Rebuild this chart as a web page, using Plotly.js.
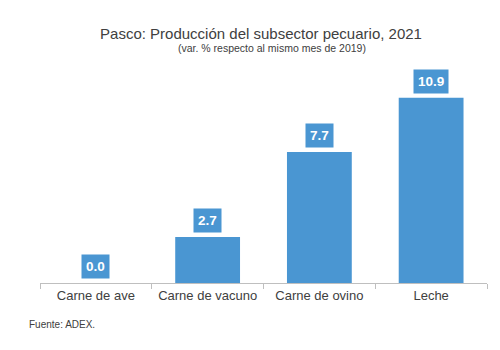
<!DOCTYPE html>
<html>
<head>
<meta charset="utf-8">
<script src="https://cdn.plot.ly/plotly-3.0.1.min.js"></script>
<style>html,body{margin:0;padding:0;background:#fff;}#chart{width:500px;height:350px;}</style>
</head>
<body>
<div id="chart"></div>
<script>
var categories = ["Carne de ave", "Carne de vacuno", "Carne de ovino", "Leche"];
var values = [0.0, 2.7, 7.7, 10.9];
var labels = ["0.0", "2.7", "7.7", "10.9"];

var barColor = "#4A96D2";
var font = "Arial, 'Liberation Sans', sans-serif";

var trace = {
  type: "bar",
  x: categories,
  y: values,
  marker: {color: barColor},
  width: 0.58,
  hoverinfo: "none"
};

var annotations = categories.map(function(c, i) {
  return {
    x: c, y: values[i], xref: "x", yref: "y",
    text: "<b>" + labels[i] + "</b>",
    showarrow: false, yanchor: "bottom", yshift: 4,
    bgcolor: barColor, borderpad: 4,
    font: {family: font, size: 13.5, color: "#ffffff"}
  };
});
annotations.push({
  xref: "paper", yref: "paper", x: 0.52, y: 1, yanchor: "bottom", yshift: 4,
  text: "(var. % respecto al mismo mes de 2019)", showarrow: false,
  font: {family: font, size: 10.5, color: "#404040"}
});
annotations.push({
  xref: "paper", yref: "paper", x: -0.03, y: 0, xanchor: "left", yanchor: "top", yshift: -34,
  text: "Fuente: ADEX.", showarrow: false,
  font: {family: font, size: 10, color: "#404040"}
});

var layout = {
  width: 500, height: 350,
  margin: {l: 40, r: 13, t: 60, b: 67},
  paper_bgcolor: "#ffffff", plot_bgcolor: "#ffffff",
  title: {
    text: "Pasco: Producción del subsector pecuario, 2021",
    x: 0.522, xanchor: "center", y: 0.905, yanchor: "middle",
    font: {family: font, size: 15, color: "#404040"}
  },
  showlegend: false,
  xaxis: {
    showline: true, linecolor: "#BFBFBF", linewidth: 1,
    ticks: "outside", tickson: "boundaries", ticklen: 5, tickcolor: "#BFBFBF",
    tickangle: 0,
    tickfont: {family: font, size: 13, color: "#404040"},
    showgrid: false, zeroline: false
  },
  yaxis: {
    range: [0, 13.12], visible: false, showgrid: false, zeroline: false
  },
  annotations: annotations
};

Plotly.newPlot("chart", [trace], layout, {displayModeBar: false, staticPlot: true});
</script>
</body>
</html>
